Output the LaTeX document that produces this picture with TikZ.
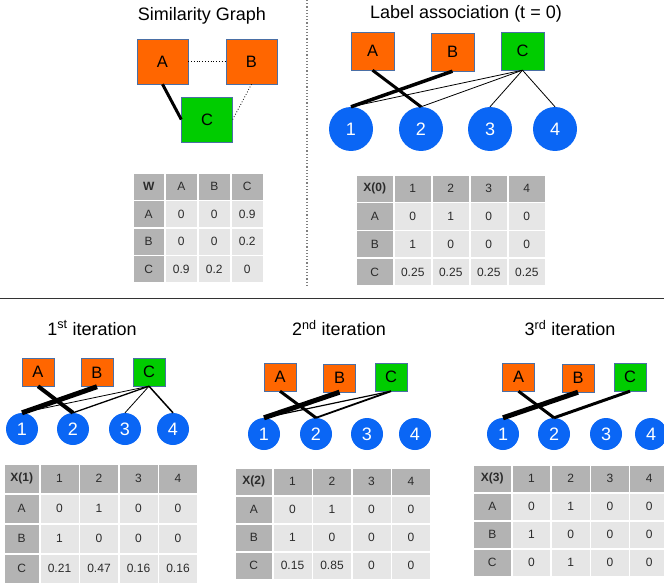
\documentclass[tikz,border=0pt]{standalone}
\usepackage{fontspec}
\setmainfont{Liberation Sans}
\usetikzlibrary{calc}
\definecolor{laranja}{HTML}{FF6600}
\definecolor{verde}{HTML}{00CC00}
\definecolor{borda}{HTML}{4A6FA5}
\definecolor{azul}{HTML}{0A66F5}
\definecolor{cinzaescuro}{HTML}{B3B3B3}
\definecolor{cinzaclaro}{HTML}{E6E6E6}
\definecolor{texto}{HTML}{2B2B2B}
\tikzset{rotulo/.style={draw=borda,thin,fill=#1,inner sep=0pt,font=\fontsize{16.5}{18}\selectfont},rotulo/.default=laranja}
\tikzset{grande/.style={minimum width=51pt,minimum height=45pt}}
\tikzset{medio/.style={minimum width=43pt,minimum height=38pt}}
\tikzset{pequeno/.style={minimum width=32pt,minimum height=28pt}}
\tikzset{classe/.style={circle,fill=azul,text=white,inner sep=0pt,minimum size=#1,font=\fontsize{18}{20}\selectfont},classe/.default=32pt}
\tikzset{liga/.style={line width=#1},liga/.default=0.8pt}
\tikzset{celula/.style={fill=#1,draw=white,line width=1.5pt,text=texto,inner sep=0pt,font=\fontsize{12}{13}\selectfont},celula/.default=cinzaclaro}
\tikzset{titulo/.style={font=\fontsize{18}{20}\selectfont}}

% #1 nome, #2 x0, #3 y0, #4 largura 1a coluna, #5 largura, #6 altura, #7 linhas
\newcommand{\tabela}[7]{%
  \foreach \linha [count=\i from 0] in {#7} {
    \foreach \val [count=\j from 0] in \linha {
      \pgfmathsetmacro{\xa}{#2+(\j>0)*(#4+(\j-1)*#5)}
      \pgfmathsetmacro{\lg}{(\j==0)*#4+(\j>0)*#5}
      \pgfmathsetmacro{\ya}{#3+\i*#6}
      \pgfmathtruncatemacro{\escuro}{(\i==0)||(\j==0)}
      \ifnum\escuro=1 \def\cor{cinzaescuro}\else\def\cor{cinzaclaro}\fi
      \node[celula=\cor,minimum width=\lg,minimum height=#6,anchor=north west] (#1-\i-\j) at (\xa,\ya) {\val};
    }
  }%
}

\begin{document}
\begin{tikzpicture}[x=1pt,y=-1pt]
	\useasboundingbox (0,0) rectangle (664,583);

	% Separadores
	\coordinate (s1) at (307,0);
	\coordinate (s2) at (307,285);
	\coordinate (h1) at (0,298);
	\coordinate (h2) at (664,298);
	\draw [gray,dotted,line width=1.2pt] (s1) -- (s2);
	\draw [black!80,thin] (h1) -- (h2);

	% Grafo de similaridade
	\node [titulo] (tg) at (202,16) {Similarity Graph};
	\node [rotulo,grande] (A) at (162.5,61.5) {A};
	\node [rotulo,grande] (B) at (251.5,61.5) {B};
	\node [rotulo=verde,grande] (C) at (207,119.5) {C};
	\draw [liga=3pt] (A.south) -- (C.west);
	\draw [dotted,line width=0.8pt] (A.east) -- (B.west);
	\draw [dotted,line width=0.8pt] (B.south) -- (C.east);

	\tabela{W}{132}{172}{32}{33}{27.5}{{\textbf{W},A,B,C},{A,0,0,0.9},{B,0,0,0.2},{C,0.9,0.2,0}}

	% Associacao inicial (t = 0)
	\node [titulo] (ta) at (466,14) {Label association (t = 0)};
	\node [rotulo,medio] (A0) at (372.5,51) {A};
	\node [rotulo,medio] (B0) at (452.5,52) {B};
	\node [rotulo=verde,medio] (C0) at (522.5,51) {C};
	\foreach \n/\x in {1/351,2/421,3/490,4/555}
		\node [classe=44pt] (p0-\n) at (\x,129) {\n};
	\draw [liga=3pt] (A0.south) -- (p0-2.north);
	\draw [liga=3.5pt] (B0.south) -- (p0-1.north);
	\foreach \n in {1,...,4}
		\draw [liga] (C0.south) -- (p0-\n.north);

	\tabela{X0}{355}{174}{38}{38}{27.75}{{\textbf{X(0)},1,2,3,4},{A,0,1,0,0},{B,1,0,0,0},{C,0.25,0.25,0.25,0.25}}

	% 1a iteracao
	\node [titulo] (t1) at (92,328) {1\textsuperscript{st} iteration};
	\node [rotulo,pequeno] (A1) at (38,372) {A};
	\node [rotulo,pequeno] (B1) at (97,372.5) {B};
	\node [rotulo=verde,pequeno] (C1) at (149,372) {C};
	\foreach \n/\x in {1/22,2/73,3/125,4/173}
		\node [classe] (p1-\n) at (\x,429) {\n};
	\draw [liga=4pt] (A1.south) -- (p1-2.north);
	\draw [liga=5pt] (B1.south) -- (p1-1.north);
	\draw [liga] (C1.south) -- (p1-1.north);
	\draw [liga=1.3pt] (C1.south) -- (p1-2.north);
	\draw [liga] (C1.south) -- (p1-3.north);
	\draw [liga=1.5pt] (C1.south) -- (p1-4.north);

	\tabela{X1}{3}{463}{36}{39.5}{30}{{\textbf{X(1)},1,2,3,4},{A,0,1,0,0},{B,1,0,0,0},{C,0.21,0.47,0.16,0.16}}

	% 2a iteracao
	\node [titulo] (t2) at (339,328) {2\textsuperscript{nd} iteration};
	\node [rotulo,pequeno] (A2) at (280,377) {A};
	\node [rotulo,pequeno] (B2) at (339.5,378) {B};
	\node [rotulo=verde,pequeno] (C2) at (391,377) {C};
	\foreach \n/\x in {1/264,2/316,3/367,4/415}
		\node [classe] (p2-\n) at (\x,434) {\n};
	\draw [liga=3pt] (A2.south) -- (p2-2.north);
	\draw [liga=5pt] (B2.south) -- (p2-1.north);
	\draw [liga=1.2pt] (C2.south) -- (p2-1.north);
	\draw [liga=1.8pt] (C2.south) -- (p2-2.north);

	\tabela{X2}{234}{467}{38}{39.5}{28}{{\textbf{X(2)},1,2,3,4},{A,0,1,0,0},{B,1,0,0,0},{C,0.15,0.85,0,0}}

	% 3a iteracao
	\node [titulo] (t3) at (570,328) {3\textsuperscript{rd} iteration};
	\node [rotulo,pequeno] (A3) at (518.5,377) {A};
	\node [rotulo,pequeno] (B3) at (578,378) {B};
	\node [rotulo=verde,pequeno] (C3) at (630,377) {C};
	\foreach \n/\x in {1/503,2/554,3/606,4/651}
		\node [classe] (p3-\n) at (\x,434) {\n};
	\draw [liga=3pt] (A3.south) -- (p3-2.north);
	\draw [liga=5pt] (B3.south) -- (p3-1.north);
	\draw [liga=3pt] (C3.south) -- (p3-2.north);

	\tabela{X3}{472}{464}{39}{39.3}{28}{{\textbf{X(3)},1,2,3,4},{A,0,1,0,0},{B,1,0,0,0},{C,0,1,0,0}}

\end{tikzpicture}
\end{document}
